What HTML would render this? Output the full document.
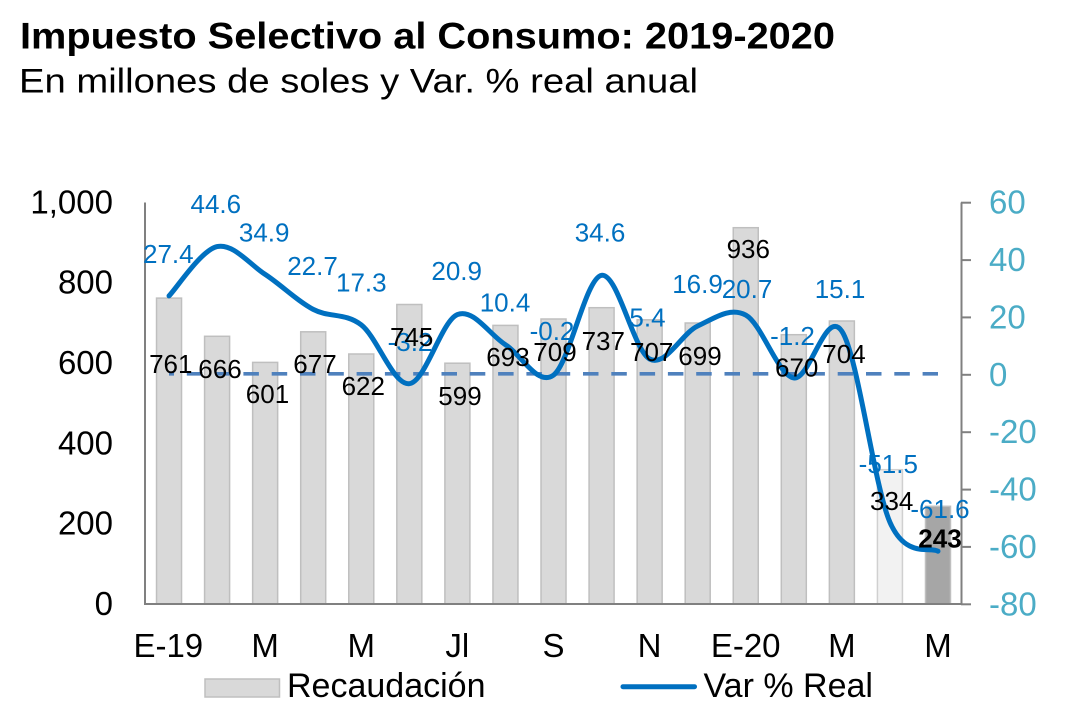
<!DOCTYPE html>
<html>
<head>
<meta charset="utf-8">
<style>
  html, body { margin: 0; padding: 0; background: #ffffff; }
  svg { display: block; }
  text { font-family: "Liberation Sans", Arial, sans-serif; }
</style>
</head>
<body>
<svg width="1072" height="728" viewBox="0 0 1072 728" xmlns="http://www.w3.org/2000/svg">
  <rect x="0" y="0" width="1072" height="728" fill="#ffffff"/>

  <!-- Title -->
  <text x="20" y="48.5" font-size="37" font-weight="bold" fill="#000" textLength="815" lengthAdjust="spacingAndGlyphs">Impuesto Selectivo al Consumo: 2019-2020</text>
  <text x="19" y="92.5" font-size="34" fill="#000" textLength="679" lengthAdjust="spacingAndGlyphs">En millones de soles y Var. % real anual</text>

  <!-- Bars -->
  <g stroke="#bfbfbf" stroke-width="1.5" fill="#d9d9d9">
    <rect x="156.53" y="298.1" width="25" height="305.9"/>
    <rect x="204.59" y="336.3" width="25" height="267.7"/>
    <rect x="252.65" y="362.4" width="25" height="241.6"/>
    <rect x="300.71" y="331.8" width="25" height="272.2"/>
    <rect x="348.77" y="354.0" width="25" height="250.0"/>
    <rect x="396.83" y="304.5" width="25" height="299.5"/>
    <rect x="444.89" y="363.2" width="25" height="240.8"/>
    <rect x="492.95" y="325.4" width="25" height="278.6"/>
    <rect x="541.01" y="319.0" width="25" height="285.0"/>
    <rect x="589.07" y="307.7" width="25" height="296.3"/>
    <rect x="637.13" y="319.8" width="25" height="284.2"/>
    <rect x="685.19" y="323.0" width="25" height="281.0"/>
    <rect x="733.25" y="227.7" width="25" height="376.3"/>
    <rect x="781.31" y="334.7" width="25" height="269.3"/>
    <rect x="829.37" y="321.0" width="25" height="283.0"/>
    <rect x="877.43" y="469.7" width="25" height="134.3" fill="#f2f2f2" stroke="#d0d0d0"/>
    <rect x="925.49" y="506.3" width="25" height="97.7" fill="#a6a6a6" stroke="#bfbfbf"/>
  </g>

  <!-- Axes -->
  <line x1="145" y1="202.5" x2="145" y2="604" stroke="#808080" stroke-width="2"/>
  <line x1="144" y1="604" x2="962" y2="604" stroke="#808080" stroke-width="2"/>
  <line x1="961.5" y1="202.5" x2="961.5" y2="605" stroke="#808080" stroke-width="2"/>
  <g stroke="#808080" stroke-width="2">
    <line x1="961" y1="202.7" x2="971" y2="202.7"/>
    <line x1="961" y1="260.1" x2="971" y2="260.1"/>
    <line x1="961" y1="317.4" x2="971" y2="317.4"/>
    <line x1="961" y1="374.8" x2="971" y2="374.8"/>
    <line x1="961" y1="432.2" x2="971" y2="432.2"/>
    <line x1="961" y1="489.6" x2="971" y2="489.6"/>
    <line x1="961" y1="546.9" x2="971" y2="546.9"/>
    <line x1="961" y1="604.3" x2="971" y2="604.3"/>
  </g>

  <!-- Zero dashed line -->
  <line x1="169" y1="373.8" x2="938" y2="373.8" stroke="#4f81bd" stroke-width="3.6" stroke-dasharray="15.5 12.8" stroke-dashoffset="10.5"/>

  <!-- Smooth line -->
  <path d="M169.03,295.9
    C177.04,287.68 201.07,250.18 217.09,246.6
    C233.11,243.02 249.13,263.93 265.15,274.4
    C281.17,284.87 297.19,300.98 313.21,309.4
    C329.23,317.82 345.25,312.52 361.27,324.9
    C377.29,337.28 393.31,385.42 409.33,383.7
    C425.35,381.98 441.37,321.1 457.39,314.6
    C473.41,308.1 489.43,334.62 505.45,344.7
    C521.47,354.78 537.49,386.67 553.51,375.1
    C569.53,363.53 585.55,277.98 601.57,275.3
    C617.59,272.62 633.61,350.55 649.63,359.0
    C665.65,367.45 681.67,333.32 697.69,326.0
    C713.71,318.68 729.73,306.45 745.75,315.1
    C761.77,323.75 777.79,375.22 793.81,377.9
    C809.83,380.58 825.85,307.15 841.87,331.2
    C857.89,355.25 873.91,485.53 889.93,522.2
    C905.95,558.87 929.98,546.37 937.99,551.2"
    fill="none" stroke="#0070c0" stroke-width="5" stroke-linecap="round" stroke-linejoin="round"/>

  <!-- Blue data labels -->
  <g font-size="26" fill="#0070c0" text-anchor="middle">
    <text x="168.3" y="263">27.4</text>
    <text x="215.8" y="213">44.6</text>
    <text x="264.2" y="241.7">34.9</text>
    <text x="312.5" y="275">22.7</text>
    <text x="361.3" y="291.7">17.3</text>
    <text x="410" y="351">-3.2</text>
    <text x="456.7" y="280">20.9</text>
    <text x="505" y="311.7">10.4</text>
    <text x="552" y="340">-0.2</text>
    <text x="600" y="241.7">34.6</text>
    <text x="647.5" y="326.7">5.4</text>
    <text x="697.5" y="293">16.9</text>
    <text x="747" y="298">20.7</text>
    <text x="792.5" y="345">-1.2</text>
    <text x="840" y="298">15.1</text>
    <text x="888.3" y="473">-51.5</text>
    <text x="940" y="518">-61.6</text>
  </g>

  <!-- Black data labels -->
  <g font-size="26" fill="#000" text-anchor="middle">
    <text x="170.8" y="373">761</text>
    <text x="220" y="378">666</text>
    <text x="267.5" y="403">601</text>
    <text x="315" y="373">677</text>
    <text x="363.3" y="395">622</text>
    <text x="411.7" y="346">745</text>
    <text x="460" y="405">599</text>
    <text x="508" y="366">693</text>
    <text x="555" y="361">709</text>
    <text x="603.3" y="350">737</text>
    <text x="651.7" y="361">707</text>
    <text x="700" y="365">699</text>
    <text x="748.3" y="258">936</text>
    <text x="796.7" y="376.7">670</text>
    <text x="844" y="363">704</text>
    <text x="891.7" y="510">334</text>
    <text x="940" y="547.5" font-weight="bold">243</text>
  </g>

  <!-- Left axis labels -->
  <g font-size="33" fill="#000" text-anchor="end">
    <text x="113" y="213.5">1,000</text>
    <text x="113" y="293.7">800</text>
    <text x="113" y="374">600</text>
    <text x="113" y="454.3">400</text>
    <text x="113" y="534.6">200</text>
    <text x="113" y="615">0</text>
  </g>

  <!-- Right axis labels -->
  <g font-size="33" fill="#4bacc6" text-anchor="start">
    <text x="989" y="213.7">60</text>
    <text x="989" y="271.1">40</text>
    <text x="989" y="328.4">20</text>
    <text x="989" y="385.8">0</text>
    <text x="989" y="443.2">-20</text>
    <text x="989" y="500.6">-40</text>
    <text x="989" y="557.9">-60</text>
    <text x="989" y="615.3">-80</text>
  </g>

  <!-- Category labels -->
  <g font-size="33" fill="#000" text-anchor="middle">
    <text x="168.3" y="657">E-19</text>
    <text x="265.1" y="657">M</text>
    <text x="361.2" y="657">M</text>
    <text x="457.3" y="657">Jl</text>
    <text x="553.5" y="657">S</text>
    <text x="649.6" y="657">N</text>
    <text x="745.7" y="657">E-20</text>
    <text x="841.9" y="657">M</text>
    <text x="938" y="657">M</text>
  </g>

  <!-- Legend -->
  <rect x="205" y="679" width="74.5" height="18" fill="#d9d9d9" stroke="#bfbfbf" stroke-width="1.5"/>
  <text x="287" y="697" font-size="34" fill="#000">Recaudación</text>
  <line x1="623" y1="686.7" x2="694.5" y2="686.7" stroke="#0070c0" stroke-width="5" stroke-linecap="round"/>
  <text x="703.5" y="697" font-size="34" fill="#000">Var % Real</text>
</svg>
</body>
</html>
